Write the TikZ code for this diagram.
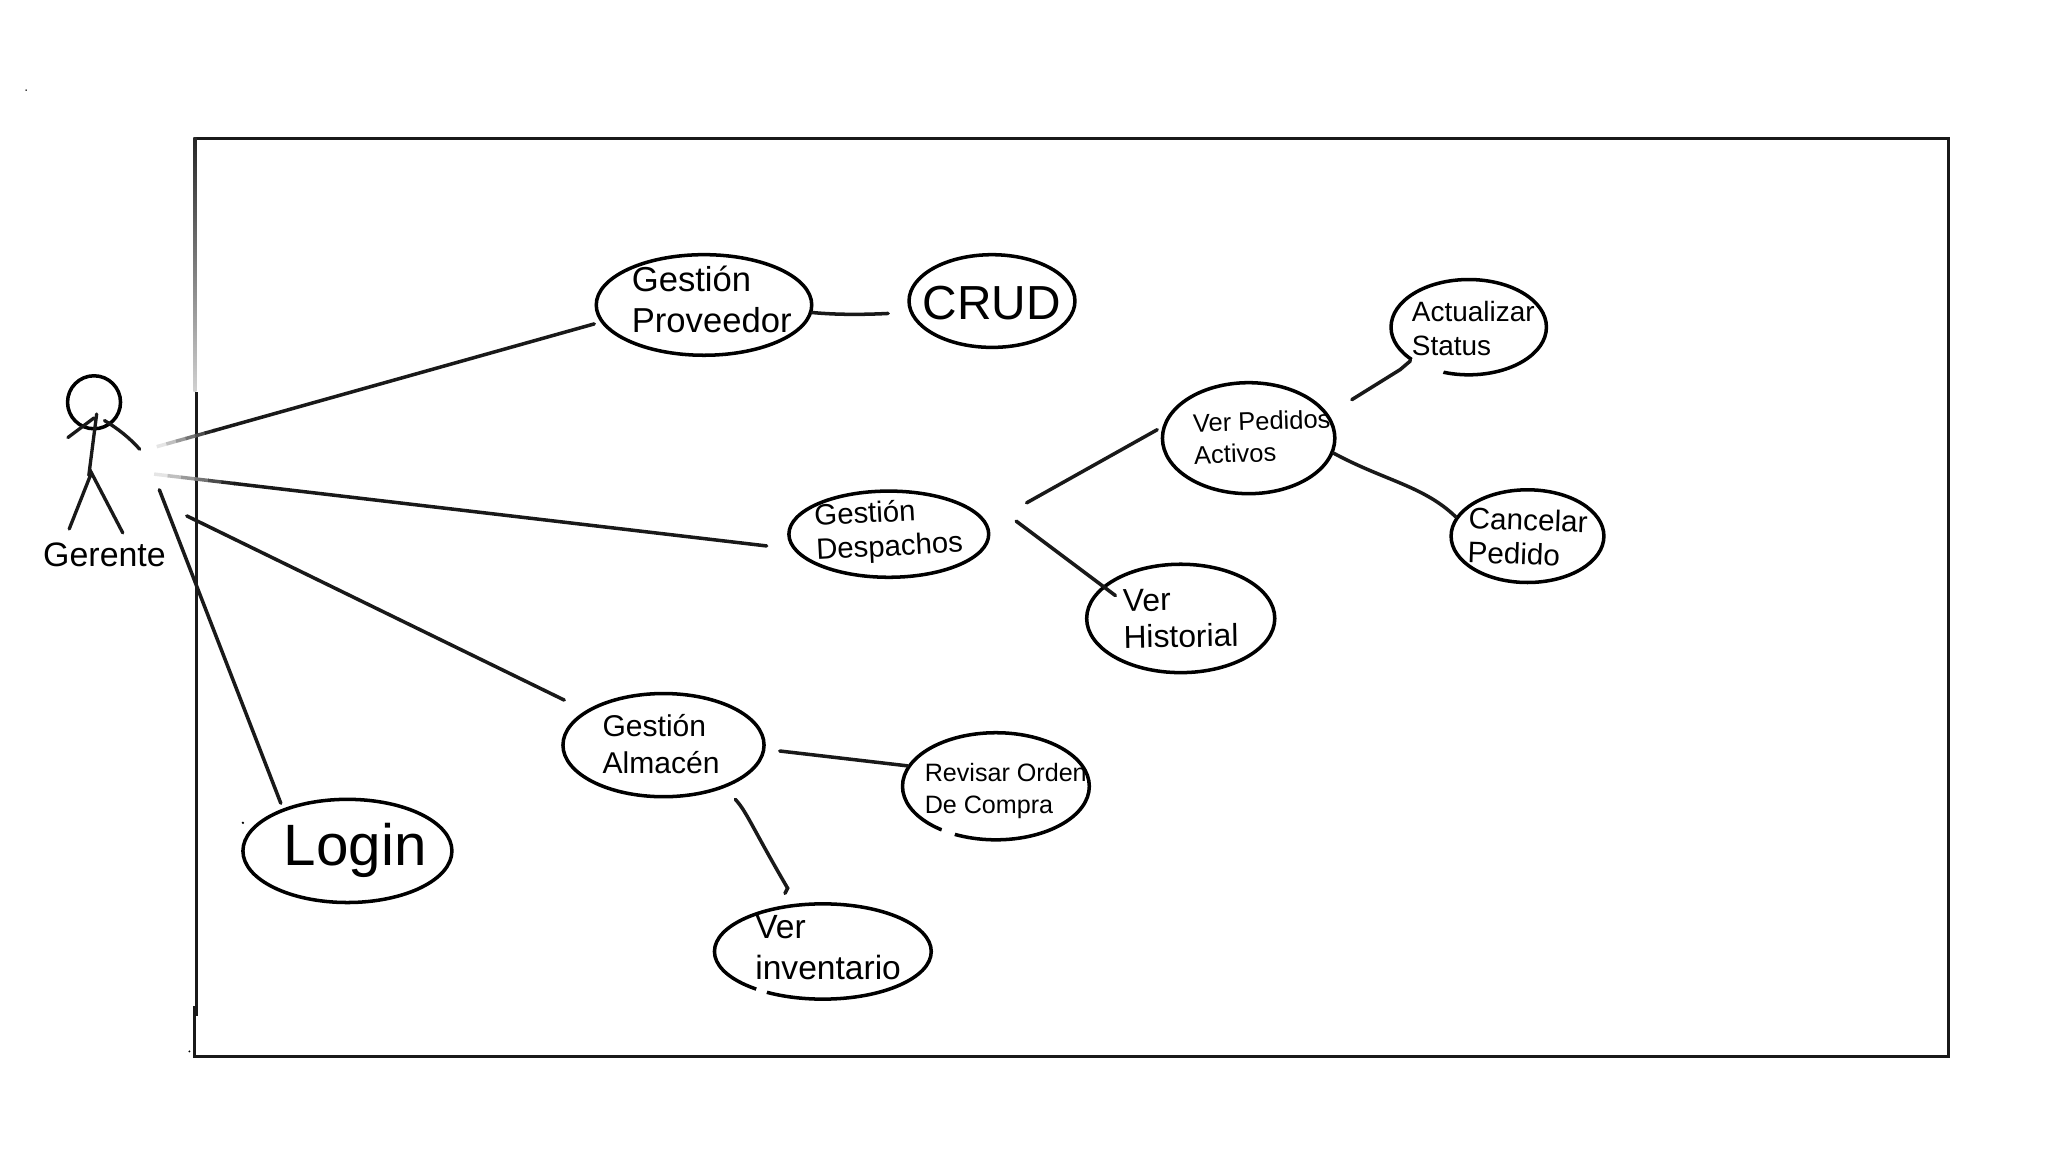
\documentclass[tikz,border=0pt]{standalone}
\usepackage{graphicx}
\usepackage{fontspec}
\setmainfont{Liberation Sans}
\usetikzlibrary{shapes.geometric, calc}
\newcommand{\casetext}[4]{\makebox[0pt]{\hspace*{2\dimexpr#1pt\relax}\raisebox{#2pt}[0pt][0pt]{\rotatebox{#3}{\begin{tabular}{@{}l@{}}#4\end{tabular}}}}}
\tikzstyle{usecase} = [ellipse, 
inner sep=0pt, 
line width=1pt, 
draw=black]
\tikzstyle{line} = [line width=1pt, black!90, line cap=round]
\tikzstyle{stroke} = [line width=0.95pt, black!90, line cap=round]
\tikzstyle{gap} = [line width=2.6pt, white]

\begin{document}
\begin{tikzpicture}[x=0.013061cm, y=-0.013061cm]
    \useasboundingbox (0,0) rectangle (1568,881.2);

    % system boundary
    \draw [line width=0.9pt, black!90, line join=miter] (149,106) -- (1492,106) -- (1492,809) -- (149,809) -- (149,770);
    \shade [top color=black!85, middle color=black!32, bottom color=black!18] (148,105.6) rectangle (150.4,300);
    \fill [black!90] (149.2,300) rectangle (151.6,778);
    \fill [black] (20,69) circle (0.6);
    \fill [black] (145,805) circle (0.8);
    \fill [black] (186,630) circle (1);

    % actor
    \node (head) [circle, draw=black, line width=1pt, inner sep=0pt, minimum width=0.53cm] at (72,308) {};
    \node (gerente) [font=\fontsize{9.65}{11}\selectfont] at (80,425) {Gerente};
    \coordinate (neck) at (74,317);
    \coordinate (hip) at (68,364);
    \coordinate (crotch) at (70,362);
    \coordinate (hand-left) at (52,335);
    \coordinate (hand-right) at (107,344);
    \coordinate (foot-left) at (53,405);
    \coordinate (foot-right) at (94,408);
    \draw [stroke] (neck) -- (hip);
    \draw [stroke] (hand-left) -- (72,320);
    \draw [stroke] (80,322) .. controls (90,328) and (99,335) .. (hand-right);
    \draw [stroke] (foot-left) -- (crotch) -- (foot-right);

    % use cases
    \node (proveedor) [usecase, minimum width=2.155cm, minimum height=1.006cm, font=\fontsize{9.85}{11.9}\selectfont] at (539,233.5) {\casetext{2.2}{-2.1}{0}{Gestión\\Proveedor}};
    \node (crud) [usecase, minimum width=1.659cm, minimum height=0.927cm, font=\fontsize{13.6}{15}\selectfont] at (759.5,230.5) {\casetext{0}{-5.8}{0}{CRUD}};
    \node (despachos) [usecase, minimum width=1.998cm, minimum height=0.862cm, font=\fontsize{8.35}{9.7}\selectfont] at (680.5,409) {\casetext{0}{-2.5}{3}{Gestión\\Despachos}};
    \node (pedidos) [usecase, minimum width=1.724cm, minimum height=1.11cm, font=\fontsize{7.25}{9}\selectfont] at (956,335.5) {\casetext{3.9}{-2.8}{2}{Ver Pedidos\\Activos}};
    \node (actualizar) [usecase, minimum width=1.554cm, minimum height=0.953cm, font=\fontsize{7.95}{9.7}\selectfont] at (1124.5,250.5) {\casetext{1.3}{-3.2}{0}{Actualizar\\Status}};
    \node (cancelar) [usecase, minimum width=1.528cm, minimum height=0.927cm, font=\fontsize{8.45}{9.7}\selectfont] at (1169.5,410.5) {\casetext{0}{-2.7}{-2}{Cancelar\\Pedido}};
    \node (historial) [usecase, minimum width=1.881cm, minimum height=1.084cm, font=\fontsize{9.05}{10.5}\selectfont] at (904,473.5) {\casetext{0}{-3.4}{1}{Ver\\Historial}};
    \node (almacen) [usecase, minimum width=2.011cm, minimum height=1.032cm, font=\fontsize{8.55}{10.8}\selectfont] at (508,570.5) {\casetext{-0.7}{-2.9}{0}{Gestión\\Almacén}};
    \node (revisar) [usecase, minimum width=1.868cm, minimum height=1.071cm, font=\fontsize{7.15}{9}\selectfont] at (762.5,602) {\casetext{2.8}{-3.1}{0}{Revisar Orden\\De Compra}};
    \node (inventario) [usecase, minimum width=2.168cm, minimum height=0.953cm, font=\fontsize{9.55}{11.6}\selectfont] at (630,728.5) {\casetext{1.5}{-2.4}{0}{Ver\\inventario}};
    \node (login) [usecase, minimum width=2.09cm, minimum height=1.032cm, font=\fontsize{16.6}{18}\selectfont] at (266,651.5) {\casetext{2.2}{-4.9}{0}{Login}};

    % small breaks in the outlines
    \draw [gap] (1081,275.4) -- (1105,285);
    \draw [gap] (721,635.4) -- (731,638.8);
    \draw [gap] (579,757.5) -- (587,760);

    % free ends
    \coordinate (from-prov) at (120,342);
    \coordinate (from-desp) at (118,363);
    \coordinate (from-alm) at (143,395);
    \coordinate (from-login) at (122,375);
    \coordinate (to-prov) at (455,248);
    \coordinate (to-desp) at (587,418);
    \coordinate (to-alm) at (432,536);
    \coordinate (to-login) at (215,615);
    \coordinate (to-crud) at (680,240);
    \coordinate (desp-ped) at (786,385);
    \coordinate (to-ped) at (886,329);
    \coordinate (desp-hist) at (778,399);
    \coordinate (to-hist) at (854,456);
    \coordinate (ped-act) at (1035,306);
    \coordinate (alm-rev) at (597,575);
    \coordinate (alm-inv) at (563,612);
    \coordinate (to-inv) at (601,684);

    % connectors
    \foreach \t/\g in {0/10, 0.022/25, 0.044/40, 0.066/55, 0.088/70, 0.11/85} {
        \draw [line, line cap=butt, black!\g] ($(from-prov)!\t!(to-prov)$) -- ($(from-prov)!\t+0.023!(to-prov)$);
        \draw [line, line cap=butt, black!\g] ($(from-desp)!\t!(to-desp)$) -- ($(from-desp)!\t+0.023!(to-desp)$);
    }
    \draw [line] ($(from-prov)!0.13!(to-prov)$) -- (to-prov);
    \draw [line] ($(from-desp)!0.13!(to-desp)$) -- (to-desp);
    \draw [line] (from-alm) -- (to-alm);
    \draw [line] (from-login) -- (to-login);
    \draw [line] (proveedor.-4) .. controls (640,241) and (660,241) .. (to-crud);
    \draw [line] (desp-ped) -- (to-ped);
    \draw [line] (desp-hist) -- (to-hist);
    \draw [line] (ped-act) -- (1072,283) -- (actualizar.210);
    \draw [line] (pedidos.-10) .. controls (1060,368) and (1090,372) .. (cancelar.165);
    \draw [line] (alm-rev) -- (revisar.167);
    \draw [line] (alm-inv) .. controls (572,622) and (575,632) .. (603,680) -- (to-inv);
\end{tikzpicture}
\end{document}
